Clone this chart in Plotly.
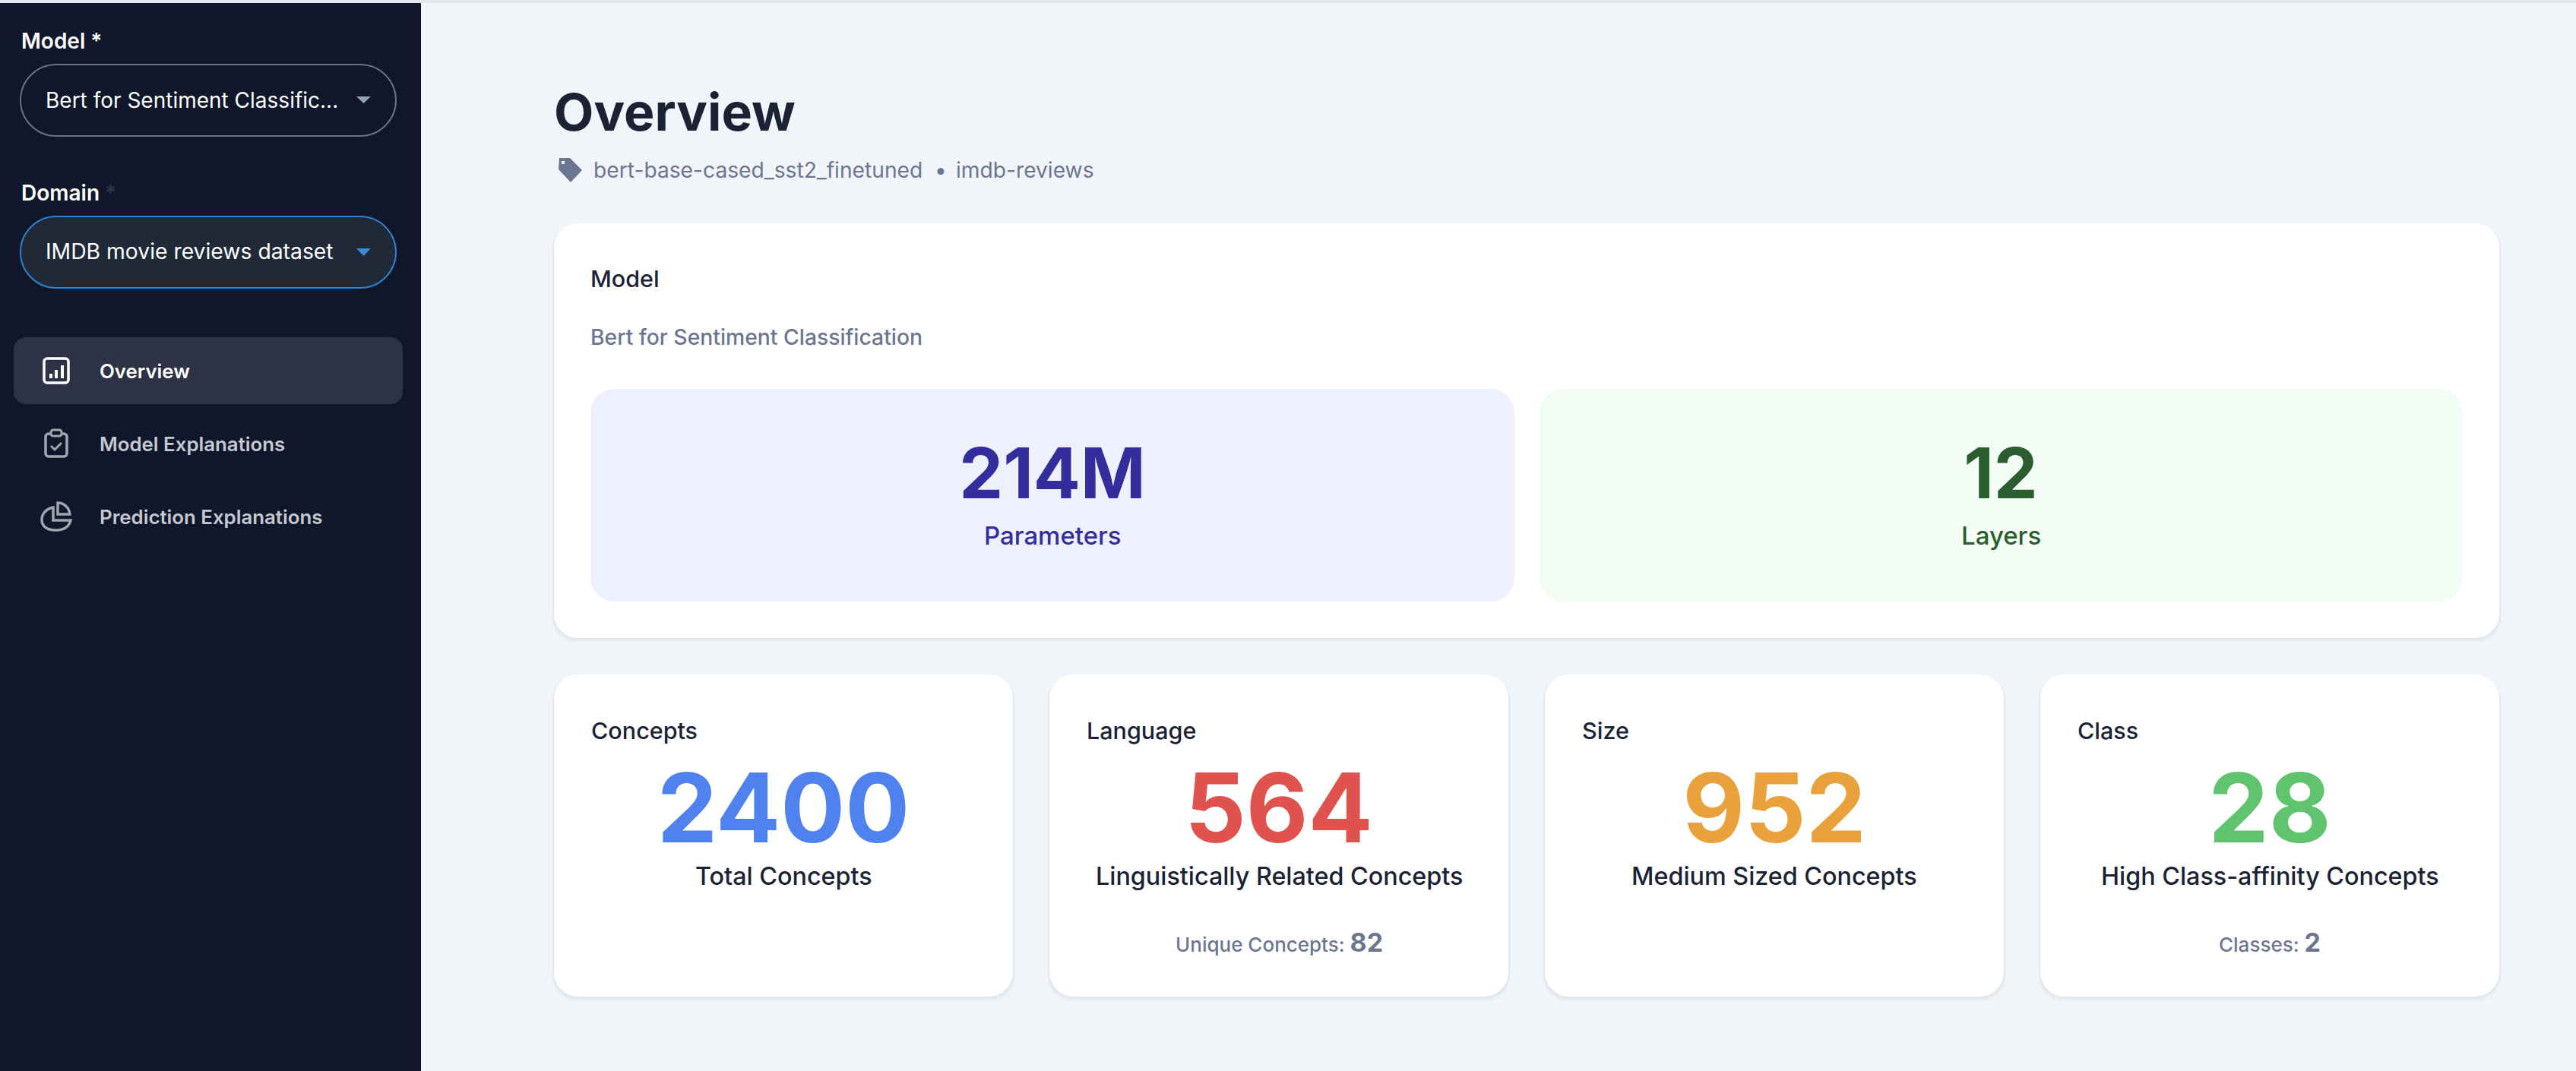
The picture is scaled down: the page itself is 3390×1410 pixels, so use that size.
import plotly.graph_objects as go

# values
model_stats = ["214M", "12"]
model_stat_labels = ["Parameters", "Layers"]
concept_titles = ["Concepts", "Language", "Size", "Class"]
concept_values = ["2400", "564", "952", "28"]
concept_labels = ["Total Concepts", "Linguistically Related Concepts", "Medium Sized Concepts", "High Class-affinity Concepts"]
concept_foot_labels = ["", "Unique Concepts:", "", "Classes:"]
concept_foot_values = ["", "82", "", "2"]
nav_items = ["Overview", "Model Explanations", "Prediction Explanations"]

W, H = 3390, 1410
FONT = "Inter"
DARK = "#1a2233"
GRAY = "#6b7690"
STAT_COLORS = ["#332e9b", "#2b5d30"]
STAT_BG = ["#eef1fd", "#f3fdf6"]
VALUE_COLORS = ["#4f82ee", "#df524e", "#e9a23b", "#60c46e"]

CARD_X = [(729, 1333), (1381, 1985), (2033, 2637), (2685, 3289)]
STAT_X = [(777, 1993), (2025, 3241)]


def rrect(x0, y0, x1, y1, r):
    k = r * 0.448
    return (
        f"M {x0+r},{y0} L {x1-r},{y0} C {x1-k},{y0} {x1},{y0+k} {x1},{y0+r} "
        f"L {x1},{y1-r} C {x1},{y1-k} {x1-k},{y1} {x1-r},{y1} "
        f"L {x0+r},{y1} C {x0+k},{y1} {x0},{y1-k} {x0},{y1-r} "
        f"L {x0},{y0+r} C {x0},{y0+k} {x0+k},{y0} {x0+r},{y0} Z"
    )


shapes = []


def add_path(path, fill=None, line=None, width=0, opacity=1):
    shapes.append(dict(
        type="path", path=path, xref="x", yref="y", layer="below", opacity=opacity,
        fillcolor=fill if fill else "rgba(0,0,0,0)",
        line=dict(color=line if line else "rgba(0,0,0,0)", width=width),
    ))


def add_card(x0, y0, x1, y1, r=32):
    # soft shadow under the white card
    for grow, op in [(6, 0.025), (4, 0.035), (2, 0.05)]:
        add_path(rrect(x0 - grow / 2, y0 + 2, x1 + grow / 2, y1 + grow, r), fill="#64748b", opacity=op)
    add_path(rrect(x0, y0, x1, y1, r), fill="#ffffff")


annotations = []


def add_text(x, y, text, size, color=DARK, weight=400, anchor="left", family=FONT):
    annotations.append(dict(
        x=x, y=y, xref="x", yref="y", text=text, showarrow=False,
        xanchor=anchor, yanchor="middle", align=anchor,
        font=dict(family=family, size=size, color=color, weight=weight),
    ))


# top strip and sidebar
add_path(f"M 0,0 L {W},0 L {W},4 L 0,4 Z", fill="#e4e7ec")
add_path(f"M 0,4 L 554,4 L 554,{H} L 0,{H} Z", fill="#10172a")

# selects
add_text(26, 54, "Model *", 28, "#ffffff", 600)
add_path(rrect(27, 85, 521, 179, 47), line="#6b7280", width=2)
add_text(58, 132, "Bert for Sentiment Classific...", 28, "#ffffff")
add_path("M 469,127 L 488,127 L 478.5,136 Z", fill="#94a3b8")

add_text(26, 254, "Domain", 28, "#ffffff", 600)
add_text(136, 254, "*", 28, "#2c3547", 600)
add_path(rrect(27, 285, 521, 379, 47), fill="#1f2937", line="#3182ce", width=2)
add_text(58, 331, "IMDB movie reviews dataset", 28.3, "#ffffff")
add_path("M 469,327 L 488,327 L 478.5,337 Z", fill="#3f8bd0")

# nav
add_path(rrect(18, 444, 530, 532, 16), fill="#2d3344")
nav_y = [488, 584, 680]
nav_colors = ["#ffffff", "#c5c8d0", "#c5c8d0"]
for label, y, col in zip(nav_items, nav_y, nav_colors):
    add_text(129, y, label, 25.8, col, 600)

# nav icons
add_path(rrect(58, 472, 90, 504, 4), line="#ffffff", width=3.5)
add_path("M 65,492 L 69,492 L 69,498 L 65,498 Z", fill="#ffffff")
add_path("M 72,487 L 76,487 L 76,498 L 72,498 Z", fill="#ffffff")
add_path("M 80,481 L 84,481 L 84,498 L 80,498 Z", fill="#ffffff")

add_path(rrect(60, 571, 88, 601, 4), line="#a1a5ae", width=3.5)
add_path(rrect(67, 566, 81, 574, 3), fill="#10172a", line="#a1a5ae", width=3)
add_path("M 67,587 L 72,592 L 81,583", line="#a1a5ae", width=3)

add_path("M 70,668 C 60,670 55,677 55,684 C 55,694 63,698 74,698 C 84,698 91,693 93,685 L 70,685 Z",
         line="#a1a5ae", width=3.5)
add_path("M 76,662 C 85,662 91,669 92,677 L 76,677 Z", line="#a1a5ae", width=3.5)

# header
add_text(727, 147, "Overview", 68, "#1a2233", 700)
add_path("M 736,208 L 750,208 L 766,224 L 751,240 L 735,223 Z", fill="#6b7690")
add_path("M 739,212 L 743,212 L 743,216 L 739,216 Z", fill="#f1f4f9")
add_text(779, 224, "bert-base-cased_sst2_finetuned", 28.2, GRAY)
add_text(1238, 224, "•", 28, GRAY, anchor="center")
add_text(1256, 224, "imdb-reviews", 28.2, GRAY)

# model card
add_card(729, 294, 3289, 840)
add_text(775, 366, "Model", 30.5, DARK, 500)
add_text(775, 444, "Bert for Sentiment Classification", 28.3, GRAY, 500)
for (x0, x1), bg in zip(STAT_X, STAT_BG):
    add_path(rrect(x0, 512, x1, 792, 32), fill=bg)

# small concept cards
for (x0, x1), title, lab, fl, fv in zip(CARD_X, concept_titles, concept_labels, concept_foot_labels, concept_foot_values):
    add_card(x0, 888, x1, 1312)
    cx = (x0 + x1) / 2
    add_text(x0 + 47, 961, title, 30.5, DARK, 500)
    add_text(cx, 1153, lab, 32.3, DARK, 500, anchor="center")
    if fl:
        add_text(cx, 1240, f'{fl} <span style="font-size:34px"><b>{fv}</b></span>', 26, GRAY, 500, anchor="center")

# stat labels
for (x0, x1), lab, col in zip(STAT_X, model_stat_labels, STAT_COLORS):
    add_text((x0 + x1) / 2, 705, lab, 33, col, 500, anchor="center")

fig = go.Figure()

# headline numbers
fig.add_trace(go.Scatter(
    x=[(a + b) / 2 for a, b in STAT_X], y=[633, 633], mode="text", text=model_stats,
    textposition="middle center",
    textfont=dict(family=FONT, size=92, color=STAT_COLORS, weight=700),
    hoverinfo="skip", showlegend=False,
))
fig.add_trace(go.Scatter(
    x=[(a + b) / 2 for a, b in CARD_X], y=[1077] * 4, mode="text", text=concept_values,
    textposition="middle center",
    textfont=dict(family=FONT, size=126, color=VALUE_COLORS, weight=700),
    hoverinfo="skip", showlegend=False,
))

fig.update_layout(
    width=W, height=H,
    margin=dict(l=0, r=0, t=0, b=0),
    paper_bgcolor="#f1f4f9",
    plot_bgcolor="#f1f4f9",
    shapes=shapes,
    annotations=annotations,
    hovermode=False,
    showlegend=False,
    xaxis=dict(range=[0, W], visible=False, fixedrange=True),
    yaxis=dict(range=[H, 0], visible=False, fixedrange=True),
)

fig.write_html(
    "out.html",
    config={"displayModeBar": False},
    post_script="document.body.style.margin='0';document.body.style.overflow='hidden';",
)
